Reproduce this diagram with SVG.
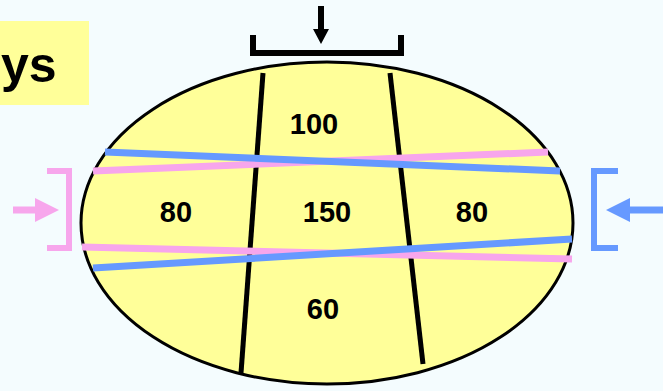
<svg xmlns="http://www.w3.org/2000/svg" width="663" height="391" viewBox="0 0 663 391">
<style>
.lbl{font-family:"Liberation Sans",Arial,sans-serif;font-weight:bold;font-size:29px;fill:#000;text-anchor:middle}
.blk{stroke:#000;stroke-width:5;fill:none}
.pink{stroke:#F7A6EC;stroke-width:7;fill:none}
.blue{stroke:#6699FF;stroke-width:7;fill:none}
</style>
<rect width="663" height="391" fill="#F4FCFE"/>
<g id="title">
<rect x="0" y="21" width="89" height="84" fill="#FFFF99"/>
<text x="1" y="82" font-family="'Liberation Sans',Arial,sans-serif" font-weight="bold" font-size="50" fill="#000">ys</text>
</g>
<g id="ellipse">
<ellipse cx="327" cy="223" rx="246" ry="161" fill="#FFFF99" stroke="#000" stroke-width="3"/>
</g>
<g id="connectors">
<line class="blk" x1="263" y1="73" x2="241" y2="373"/>
<line class="blk" x1="390" y1="73" x2="423" y2="364"/>
<line class="pink" x1="93" y1="171" x2="548" y2="152"/>
<line class="blue" x1="105" y1="152" x2="560" y2="171"/>
<line class="pink" x1="82" y1="247" x2="572" y2="259"/>
<line class="blue" x1="93" y1="268" x2="572" y2="239"/>
</g>
<g id="top-bracket">
<polyline points="253,35 253,53 401,53 401,35" fill="none" stroke="#000" stroke-width="6"/>
<line x1="321" y1="6" x2="321" y2="30" stroke="#000" stroke-width="6"/>
<polygon points="313,29 329,29 321,44" fill="#000"/>
</g>
<g id="left-bracket">
<polyline points="47,171 69,171 69,248 47,248" fill="none" stroke="#F7A6EC" stroke-width="6"/>
<line x1="13" y1="210" x2="37" y2="210" stroke="#F7A6EC" stroke-width="7"/>
<polygon points="35,198 35,222 59,210" fill="#F7A6EC"/>
</g>
<g id="right-bracket">
<polyline points="618,171 594,171 594,248 618,248" fill="none" stroke="#6699FF" stroke-width="6"/>
<line x1="663" y1="210" x2="628" y2="210" stroke="#6699FF" stroke-width="7"/>
<polygon points="630,198 630,222 606,210" fill="#6699FF"/>
</g>
<g id="labels">
<text class="lbl" x="314" y="134">100</text>
<text class="lbl" x="176" y="222">80</text>
<text class="lbl" x="327" y="222">150</text>
<text class="lbl" x="472" y="222">80</text>
<text class="lbl" x="323" y="319">60</text>
</g>
</svg>
